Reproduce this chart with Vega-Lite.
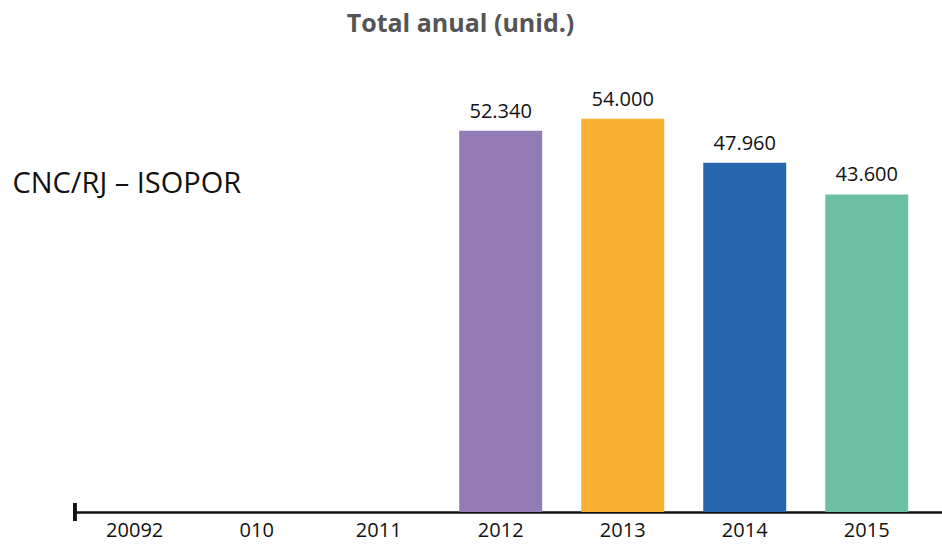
{
  "$schema": "https://vega.github.io/schema/vega-lite/v6.json",
  "autosize": "none",
  "width": 867,
  "height": 452,
  "padding": {"left": 75, "top": 60, "right": 0, "bottom": 34},
  "background": "white",
  "title": {
    "text": "Total anual (unid.)",
    "anchor": "middle",
    "frame": "group",
    "dx": -48,
    "offset": 23,
    "font": "Open Sans",
    "fontSize": 25,
    "fontWeight": "bold",
    "color": "#555555"
  },
  "config": {
    "view": {"stroke": null},
    "locale": {"number": {"decimal": ",", "thousands": ".", "grouping": [3], "currency": ["R$", ""]}}
  },
  "data": {
    "values": [
      {"ano": "2012", "total": 52340},
      {"ano": "2013", "total": 54000},
      {"ano": "2014", "total": 47960},
      {"ano": "2015", "total": 43600}
    ]
  },
  "encoding": {
    "x": {
      "field": "ano",
      "type": "nominal",
      "sort": null,
      "scale": {
        "domain": ["20092", "010", "2011", "2012", "2013", "2014", "2015"],
        "paddingInner": 0.32,
        "paddingOuter": 0.213,
        "align": 0.35
      },
      "axis": {
        "title": null,
        "labelAngle": 0,
        "labelFont": "Open Sans",
        "labelFontSize": 20,
        "labelColor": "#111111",
        "labelPadding": 8,
        "domainColor": "#111111",
        "domainWidth": 2.5,
        "ticks": false,
        "grid": false
      }
    },
    "y": {
      "field": "total",
      "type": "quantitative",
      "scale": {"domain": [0, 62060], "nice": false},
      "axis": {
        "domain": false,
        "ticks": false,
        "labels": false,
        "grid": false,
        "title": "CNC/RJ – ISOPOR",
        "titleAngle": 0,
        "titleAlign": "left",
        "titleBaseline": "alphabetic",
        "titleX": -63,
        "titleY": 132,
        "titleFont": "Open Sans",
        "titleFontSize": 29,
        "titleFontWeight": "normal",
        "titleColor": "#111111"
      }
    }
  },
  "layer": [
    {
      "mark": {"type": "bar"},
      "encoding": {
        "color": {
          "field": "ano",
          "type": "nominal",
          "scale": {"domain": ["2012", "2013", "2014", "2015"], "range": ["#937CB5", "#F8B133", "#2566AD", "#6BBFA3"]},
          "legend": null
        }
      }
    },
    {
      "mark": {"type": "text", "baseline": "alphabetic", "dy": -13, "font": "Open Sans", "fontSize": 20, "color": "#111111"},
      "encoding": {
        "text": {"field": "total", "type": "quantitative", "format": ",d"}
      }
    },
    {
      "mark": {"type": "tick", "orient": "vertical", "size": 18, "thickness": 3, "color": "#111111", "opacity": 1},
      "encoding": {
        "x": {"datum": "20092", "bandPosition": -0.22},
        "y": {"datum": 0}
      }
    }
  ]
}
